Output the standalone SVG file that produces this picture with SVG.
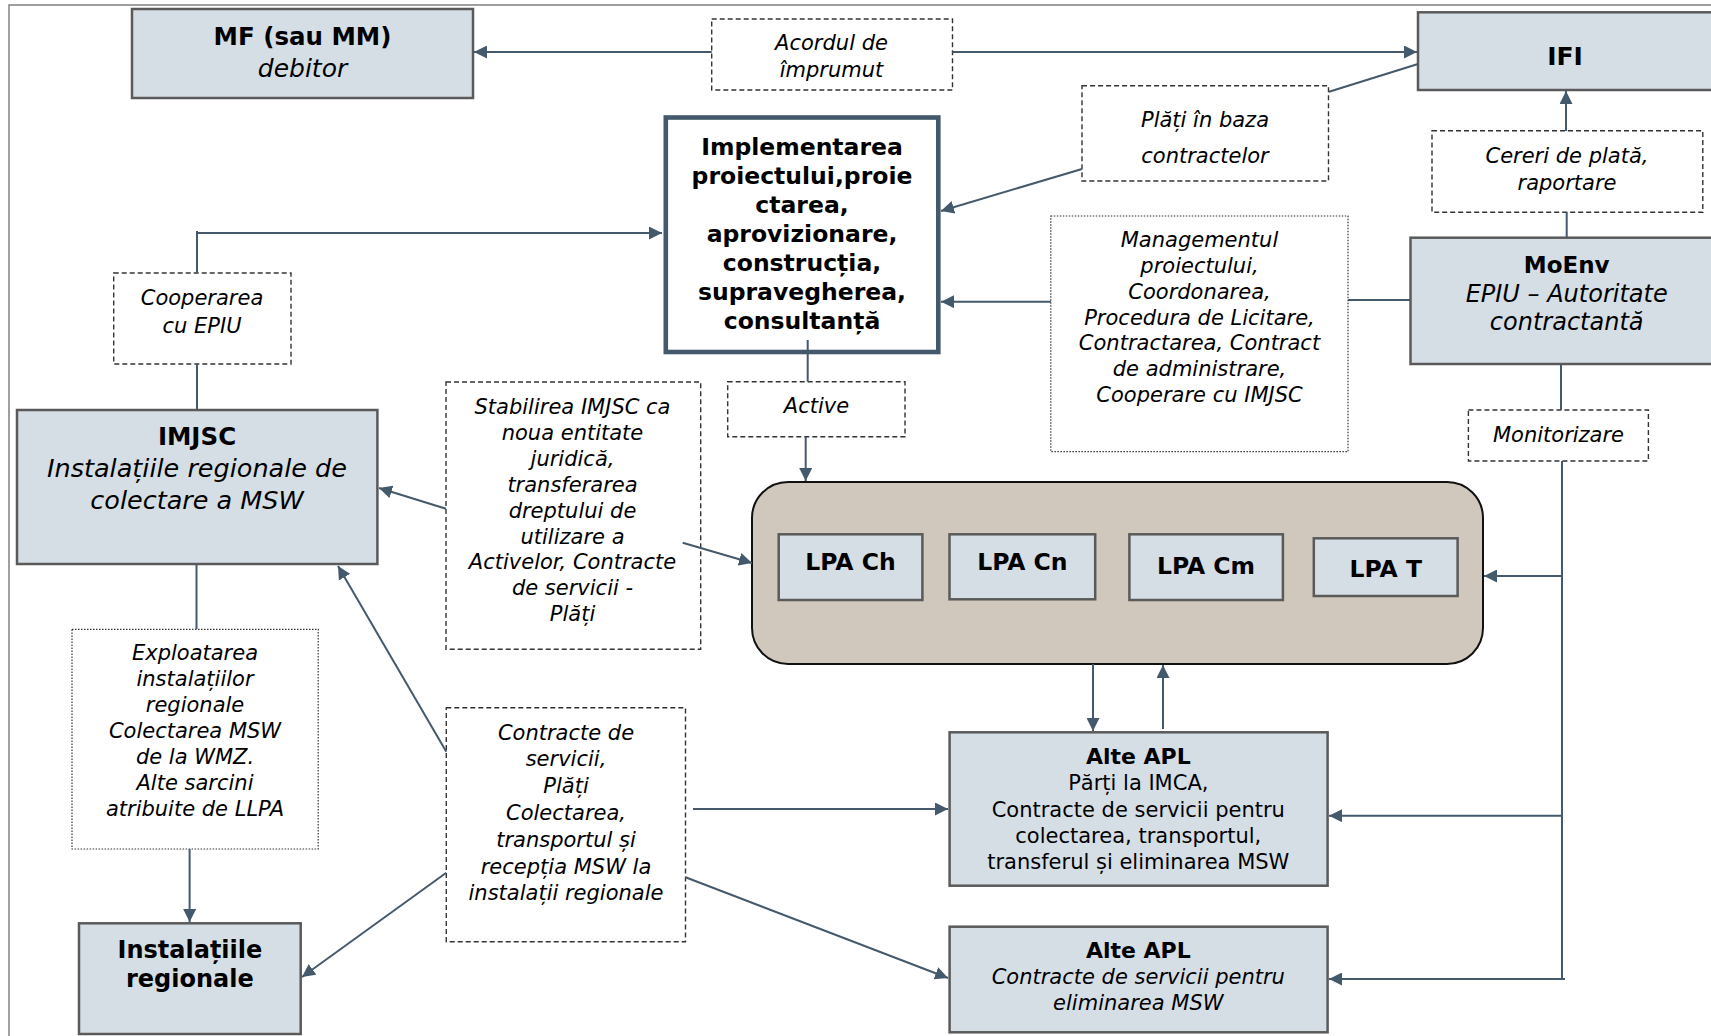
<svg xmlns="http://www.w3.org/2000/svg" width="1711" height="1036" viewBox="0 0 1711 1036">
<style>
.frame{fill:none;stroke:#808080;stroke-width:1.5}
.node{fill:#d6dee5;stroke:#5a5a5a;stroke-width:2.5}
.impl{fill:#fff;stroke:#44596b;stroke-width:4.6}
.lbl{fill:#fff;stroke:#333;stroke-width:1.4;stroke-dasharray:5 3}
.dot{fill:#fff;stroke:#333;stroke-width:1.2;stroke-dasharray:1.5 1.5}
.cont{fill:#d0c8bc;stroke:#111;stroke-width:2}
text{font-family:"DejaVu Sans",Verdana,sans-serif;text-anchor:middle;fill:#000}
.b{font-weight:bold;font-size:24px}
.i{font-style:italic;font-size:21px}
.r{font-size:21px}
.c line,.c path{stroke:#44596b;stroke-width:2;fill:none}
</style>
<defs>
<marker id="ah" viewBox="0 0 10 10" refX="10" refY="5" markerWidth="13" markerHeight="13" markerUnits="userSpaceOnUse" orient="auto">
<path d="M0,0 L10,5 L0,10 z" fill="#44596b"/>
</marker>
</defs>
<rect class="frame" x="9" y="5" width="1720" height="1050"/>

<g id="mf">
<rect class="node" x="132" y="9" width="341" height="89"/>
<text class="b" x="302.5" y="45" style="font-size:24.5px">MF (sau MM)</text>
<text class="i" x="302.5" y="77" style="font-size:25px">debitor</text>
</g>
<g id="ifi">
<rect class="node" x="1418" y="12.3" width="310" height="77.7"/>
<text class="b" x="1565" y="65" style="font-size:25px">IFI</text>
</g>
<g id="acordul">
<rect class="lbl" x="711.7" y="19" width="240.8" height="71"/>
<text class="i" x="831.5" y="50">Acordul de</text>
<text class="i" x="831.5" y="77">împrumut</text>
</g>
<g id="plati">
<rect class="lbl" x="1082" y="85.7" width="246.5" height="95.3"/>
<text class="i" x="1205" y="126.7">Plăți în baza</text>
<text class="i" x="1205" y="163">contractelor</text>
</g>
<g id="cereri">
<rect class="lbl" x="1432" y="130.7" width="270.8" height="81.6"/>
<text class="i" x="1567" y="163.3">Cereri de plată,</text>
<text class="i" x="1567" y="190">raportare</text>
</g>
<g id="implementarea">
<rect class="impl" x="665.8" y="117.5" width="272.5" height="234.5"/>
<text class="b" x="802" y="155" style="font-size:23.5px">Implementarea</text>
<text class="b" x="802" y="184" style="font-size:23.5px">proiectului,proie</text>
<text class="b" x="802" y="213" style="font-size:23.5px">ctarea,</text>
<text class="b" x="802" y="242" style="font-size:23.5px">aprovizionare,</text>
<text class="b" x="802" y="271" style="font-size:23.5px">construcția,</text>
<text class="b" x="802" y="300" style="font-size:23.5px">supravegherea,</text>
<text class="b" x="802" y="329" style="font-size:23.5px">consultanță</text>
</g>
<g id="management">
<rect class="dot" x="1050.8" y="216" width="297.2" height="235.7"/>
<text class="i" x="1199.5" y="247">Managementul</text>
<text class="i" x="1199.5" y="273">proiectului,</text>
<text class="i" x="1199.5" y="298.5">Coordonarea,</text>
<text class="i" x="1199.5" y="324.5">Procedura de Licitare,</text>
<text class="i" x="1199.5" y="350">Contractarea, Contract</text>
<text class="i" x="1199.5" y="376">de administrare,</text>
<text class="i" x="1199.5" y="402">Cooperare cu IMJSC</text>
</g>
<g id="moenv">
<rect class="node" x="1410.5" y="237.7" width="320" height="126.3"/>
<text class="b" x="1566.7" y="273" style="font-size:23px">MoEnv</text>
<text class="i" x="1566.7" y="301.7" style="font-size:24px">EPIU – Autoritate</text>
<text class="i" x="1566.7" y="330" style="font-size:24px">contractantă</text>
</g>
<g id="cooperarea">
<rect class="lbl" x="113.7" y="273" width="177.3" height="91"/>
<text class="i" x="202" y="305">Cooperarea</text>
<text class="i" x="202" y="333">cu EPIU</text>
</g>
<g id="imjsc">
<rect class="node" x="17" y="410" width="360.4" height="154"/>
<text class="b" x="197" y="445" style="font-size:24.5px">IMJSC</text>
<text class="i" x="197" y="477" style="font-size:25.5px">Instalațiile regionale de</text>
<text class="i" x="197" y="509" style="font-size:25.5px">colectare a MSW</text>
</g>
<g id="active">
<rect class="lbl" x="727.7" y="381.7" width="177.3" height="55"/>
<text class="i" x="816.5" y="413">Active</text>
</g>
<g id="monitorizare">
<rect class="lbl" x="1468.4" y="410" width="180" height="51"/>
<text class="i" x="1558.5" y="441.7">Monitorizare</text>
</g>
<g id="stabilirea">
<rect class="lbl" x="446" y="382" width="254.7" height="267.3"/>
<text class="i" x="572.5" y="414.3">Stabilirea IMJSC ca</text>
<text class="i" x="572.5" y="440.2">noua entitate</text>
<text class="i" x="572.5" y="466">juridică,</text>
<text class="i" x="572.5" y="491.9">transferarea</text>
<text class="i" x="572.5" y="517.7">dreptului de</text>
<text class="i" x="572.5" y="543.6">utilizare a</text>
<text class="i" x="572.5" y="569.4">Activelor, Contracte</text>
<text class="i" x="572.5" y="595.3">de servicii -</text>
<text class="i" x="572.5" y="621.1">Plăți</text>
</g>
<g id="lpa-group">
<rect class="cont" x="752" y="482" width="731" height="182" rx="36" ry="36"/>
</g>
<g id="lpa-ch">
<rect class="node" x="778.7" y="534.3" width="143.7" height="65.7"/>
<text class="b" x="850.5" y="570" style="font-size:23.5px">LPA Ch</text>
</g>
<g id="lpa-cn">
<rect class="node" x="949.5" y="534.3" width="145.7" height="65"/>
<text class="b" x="1022.4" y="570" style="font-size:23.5px">LPA Cn</text>
</g>
<g id="lpa-cm">
<rect class="node" x="1129.4" y="534.3" width="153.5" height="65.7"/>
<text class="b" x="1206" y="574.3" style="font-size:23.5px">LPA Cm</text>
</g>
<g id="lpa-t">
<rect class="node" x="1313.8" y="538.3" width="143.8" height="57.7"/>
<text class="b" x="1385.7" y="577.3" style="font-size:23.5px">LPA T</text>
</g>
<g id="exploatarea">
<rect class="dot" x="72" y="629.3" width="246.2" height="219.7"/>
<text class="i" x="195" y="660">Exploatarea</text>
<text class="i" x="195" y="686">instalațiilor</text>
<text class="i" x="195" y="712">regionale</text>
<text class="i" x="195" y="738">Colectarea MSW</text>
<text class="i" x="195" y="764">de la WMZ.</text>
<text class="i" x="195" y="790">Alte sarcini</text>
<text class="i" x="195" y="816">atribuite de LLPA</text>
</g>
<g id="contracte">
<rect class="lbl" x="446.3" y="707.7" width="239.2" height="234"/>
<text class="i" x="566" y="739.5">Contracte de</text>
<text class="i" x="566" y="766.3">servicii,</text>
<text class="i" x="566" y="793.1">Plăți</text>
<text class="i" x="566" y="819.9">Colectarea,</text>
<text class="i" x="566" y="846.7">transportul și</text>
<text class="i" x="566" y="873.5">recepția MSW la</text>
<text class="i" x="566" y="900.3">instalații regionale</text>
</g>
<g id="alte-apl-1">
<rect class="node" x="949.6" y="732.3" width="378" height="153.4"/>
<text class="b" x="1138.3" y="764" style="font-size:22px">Alte APL</text>
<text class="r" x="1138.3" y="790">Părți la IMCA,</text>
<text class="r" x="1138.3" y="816.7">Contracte de servicii pentru</text>
<text class="r" x="1138.3" y="842.7">colectarea, transportul,</text>
<text class="r" x="1138.3" y="869">transferul și eliminarea MSW</text>
</g>
<g id="alte-apl-2">
<rect class="node" x="949.6" y="926.7" width="378" height="105.6"/>
<text class="b" x="1138.3" y="958.3" style="font-size:22px">Alte APL</text>
<text class="i" x="1138.3" y="984">Contracte de servicii pentru</text>
<text class="i" x="1138.3" y="1010">eliminarea MSW</text>
</g>
<g id="instalatiile">
<rect class="node" x="79" y="923.3" width="221.7" height="110.7"/>
<text class="b" x="189.9" y="958.3">Instalațiile</text>
<text class="b" x="189.9" y="986.7">regionale</text>
</g>

<g class="c" id="connectors">
<line x1="711.7" y1="52" x2="474" y2="52" marker-end="url(#ah)"/>
<line x1="952.5" y1="52" x2="1417" y2="52" marker-end="url(#ah)"/>
<line x1="1329" y1="91.7" x2="1418" y2="64"/>
<line x1="1082" y1="169" x2="941" y2="211" marker-end="url(#ah)"/>
<line x1="1566" y1="131" x2="1566" y2="91" marker-end="url(#ah)"/>
<line x1="1566.7" y1="237.7" x2="1566.7" y2="212"/>
<line x1="1410" y1="300" x2="1348" y2="300"/>
<line x1="1051" y1="301.7" x2="941" y2="301.7" marker-end="url(#ah)"/>
<line x1="197" y1="273" x2="197" y2="231"/>
<line x1="197" y1="233" x2="662" y2="233" marker-end="url(#ah)"/>
<line x1="197" y1="364" x2="197" y2="410"/>
<line x1="807.7" y1="340" x2="807.7" y2="381.7"/>
<line x1="805.7" y1="436.7" x2="805.7" y2="481" marker-end="url(#ah)"/>
<line x1="446" y1="508.7" x2="379" y2="488" marker-end="url(#ah)"/>
<line x1="682.7" y1="542.7" x2="752" y2="563" marker-end="url(#ah)"/>
<line x1="1561" y1="364" x2="1561" y2="410"/>
<line x1="1562" y1="461" x2="1562" y2="979"/>
<line x1="1562" y1="576" x2="1484" y2="576" marker-end="url(#ah)"/>
<line x1="1562" y1="815.7" x2="1329" y2="815.7" marker-end="url(#ah)"/>
<line x1="1565" y1="979" x2="1329" y2="979" marker-end="url(#ah)"/>
<line x1="1093" y1="664" x2="1093" y2="731" marker-end="url(#ah)"/>
<line x1="1163" y1="729" x2="1163" y2="665" marker-end="url(#ah)"/>
<line x1="196.5" y1="564" x2="196.5" y2="629"/>
<line x1="189.6" y1="849" x2="189.6" y2="922" marker-end="url(#ah)"/>
<line x1="446.3" y1="751.7" x2="338" y2="566" marker-end="url(#ah)"/>
<line x1="446.3" y1="872.7" x2="302" y2="977" marker-end="url(#ah)"/>
<line x1="693" y1="809" x2="948" y2="809" marker-end="url(#ah)"/>
<line x1="685.5" y1="877.3" x2="948" y2="978" marker-end="url(#ah)"/>
</g>
</svg>
